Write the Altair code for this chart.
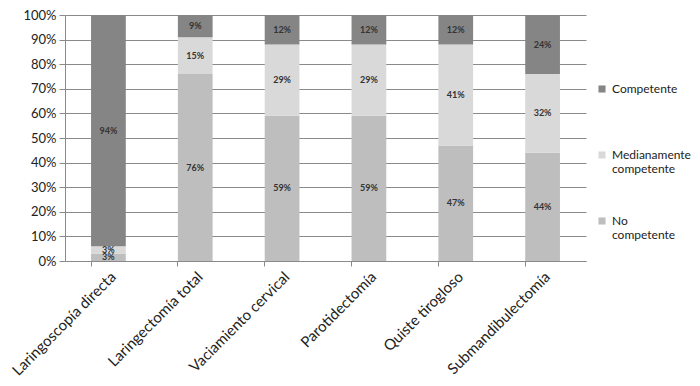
import altair as alt
import pandas as pd

categories = ["Laringoscopía directa", "Laringectomía total", "Vaciamiento cervical",
              "Parotidectomía", "Quiste tirogloso", "Submandibulectomía"]
levels = ["Competente", "Medianamente competente", "No competente"]
no_competente = [3, 76, 59, 59, 47, 44]
medianamente = [3, 15, 29, 29, 41, 32]
competente = [94, 9, 12, 12, 12, 24]
colors = ["#858585", "#d9d9d9", "#bebebe"]
y_ticks = [0, 10, 20, 30, 40, 50, 60, 70, 80, 90, 100]

rows = []
for i, c in enumerate(categories):
    rows.append({"category": c, "level": "No competente", "value": no_competente[i], "rank": 0})
    rows.append({"category": c, "level": "Medianamente competente", "value": medianamente[i], "rank": 1})
    rows.append({"category": c, "level": "Competente", "value": competente[i], "rank": 2})
df = pd.DataFrame(rows)

FONT = "Lato"
GRID = "#8a8a8a"

base = alt.Chart(df).transform_stack(
    stack="value", groupby=["category"], as_=["v0", "v1"],
    sort=[alt.SortField("rank", order="ascending")]
).transform_calculate(mid="(datum.v0 + datum.v1) / 2", lab="datum.value + '%'")

xscale = alt.Scale(paddingInner=0.6, paddingOuter=0.3)
yscale = alt.Scale(domain=[0, 100])
yaxis = alt.Axis(values=y_ticks, labelExpr="datum.value + '%'",
                 labelOverlap=False, labelFont=FONT, labelFontSize=13,
                 labelColor="#222", grid=True, gridColor=GRID, gridWidth=1,
                 tickColor=GRID, tickSize=6, domainColor=GRID, labelPadding=3)

bars = base.mark_bar().encode(
    x=alt.X("category:N", sort=categories, scale=xscale, title=None,
            axis=alt.Axis(orient="bottom", labelAngle=-45, ticks=False, domain=False,
                          labelFont=FONT, labelFontSize=15, labelColor="#222",
                          labelPadding=8, labelLimit=300)),
    y=alt.Y("v0:Q", scale=yscale, title=None, axis=yaxis),
    y2="v1:Q",
    color=alt.Color("level:N", scale=alt.Scale(domain=levels, range=colors),
                    title=None,
                    legend=alt.Legend(orient="none", legendX=531, legendY=68,
                                      symbolType="square", symbolSize=50,
                                      symbolStrokeWidth=0, labelFont=FONT,
                                      labelFontSize=12, labelColor="#222",
                                      rowPadding=40, labelOffset=4, gridAlign="all",
                                      labelExpr="datum.label == 'Competente' ? datum.label : split(datum.label, ' ')")),
)

texts = base.mark_text(font=FONT, fontSize=9, fontWeight="bold", color="#333").encode(
    x=alt.X("category:N", sort=categories, scale=xscale, title=None,
            axis=alt.Axis(orient="bottom", labels=False, bandPosition=0, ticks=True,
                          tickSize=5, tickColor=GRID, domainColor=GRID)),
    y=alt.Y("mid:Q", scale=yscale, title=None, axis=yaxis),
    text="lab:N",
)

chart = alt.layer(bars, texts).resolve_axis(x="independent").properties(
    width=521, height=246,
    autosize=alt.AutoSizeParams(type="none"),
    padding={"left": 57, "top": 7, "right": 106, "bottom": 117},
).configure_view(stroke=None)

chart.save("out.html", embed_options={"renderer": "svg", "actions": False})
